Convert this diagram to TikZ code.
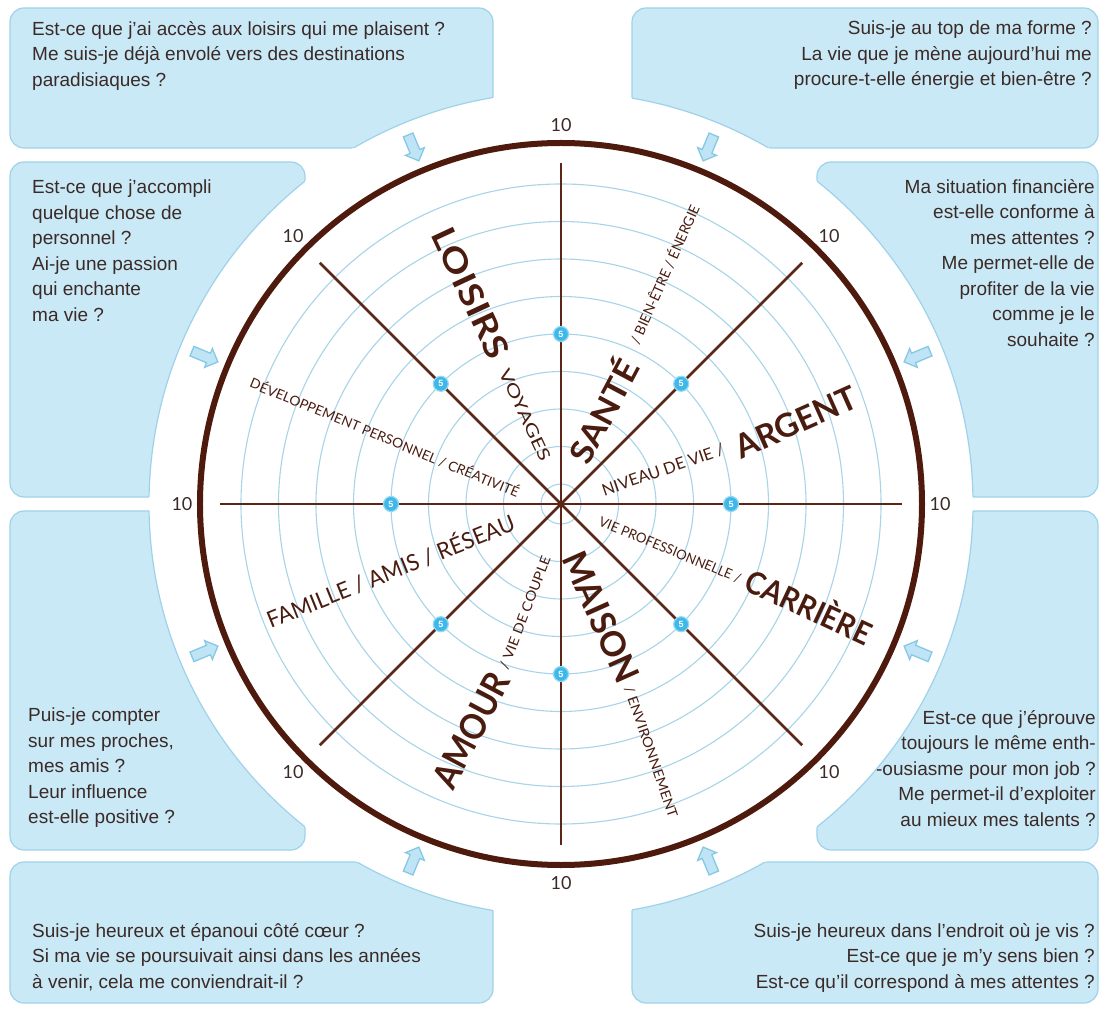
\documentclass[tikz,border=0pt]{standalone}
\usepackage{fontspec}
\setmainfont{Liberation Sans}
\newfontfamily\labfont{Lato}
\usetikzlibrary{shapes.arrows}
\definecolor{boxfill}{HTML}{C9E9F7}
\definecolor{boxline}{HTML}{9FD2E8}
\definecolor{brownd}{HTML}{4E1A0E}
\definecolor{spokecol}{HTML}{5C2516}
\definecolor{ringcol}{HTML}{A8D4E8}
\definecolor{txtcol}{HTML}{3B2A26}
\definecolor{labcol}{HTML}{4A1C10}
\definecolor{markcol}{HTML}{3DB8E8}
\definecolor{arrowfill}{HTML}{BFE4F5}
\definecolor{arrowline}{HTML}{86C8E6}
\newcommand\rz[3]{\resizebox{#1pt}{#2pt}{#3}}
\tikzset{
  qbox/.style={fill=boxfill, draw=boxline, line width=1.2pt, rounded corners=14pt},
  qtext/.style={inner sep=0pt, text=txtcol, font=\fontsize{19}{25.5}\selectfont},
  ringline/.style={draw=ringcol, line width=1.1pt},
  spokeline/.style={draw=spokecol, line width=2.6pt},
  rimline/.style={draw=brownd, line width=6pt},
  marker/.style={circle, fill=markcol, draw=markcol!55!white, line width=1.2pt, inner sep=0pt,
    minimum size=15pt, text=white, font=\bfseries\fontsize{9}{9}\selectfont},
  tenlab/.style={inner sep=0pt, text=txtcol, font=\labfont\fontsize{18}{18}\selectfont},
  lab/.style={inner sep=0pt, text=labcol, font=\labfont},
  biglab/.style={inner sep=0pt, text=labcol, font=\labfont\bfseries},
  qarrow/.style={single arrow, fill=arrowfill, draw=arrowline, line width=1.3pt,
    minimum height=28pt, inner xsep=0pt, inner ysep=4.5pt, single arrow head extend=5pt}
}
\begin{document}
\begin{tikzpicture}[x=1pt,y=1pt]
\useasboundingbox (-561,-507) rectangle (546,504);
\fill[white] (-561,-507) rectangle (546,504);
% question boxes
\foreach \xa/\ya/\xb/\yb in {-551/496/-68/356, 71/496/537/356, -551/342/-256/7, 256/342/537/7,
  -551/-7/-256/-346, 256/-7/537/-346, -551/-358/-68/-499, 71/-358/537/-499}
  \draw[qbox] (\xa,\ya) rectangle (\xb,\yb);
\fill[white] (0,0) circle (412);
\begin{scope}
\clip (-551,496) rectangle (-68,356) (71,496) rectangle (537,356)
      (-551,342) rectangle (-256,7) (256,342) rectangle (537,7)
      (-551,-7) rectangle (-256,-346) (256,-7) rectangle (537,-346)
      (-551,-358) rectangle (-68,-499) (71,-358) rectangle (537,-499);
\draw[boxline, line width=1.2pt] (0,0) circle (412);
\end{scope}
% box texts
\node[qtext, anchor=north west, align=left] (qtl) at (-529,483)
  {Est-ce que j'ai accès aux loisirs qui me plaisent ?\\Me suis-je déjà envolé vers des destinations\\paradisiaques ?};
\node[qtext, anchor=north east, align=right] (qtr) at (531,483)
  {Suis-je au top de ma forme ?\\La vie que je mène aujourd'hui me\\procure-t-elle énergie et bien-être ?};
\node[qtext, anchor=north west, align=left] (qlu) at (-529,324)
  {Est-ce que j'accompli\\quelque chose de\\personnel ?\\Ai-je une passion\\qui enchante\\ma vie ?};
\node[qtext, anchor=north east, align=right] (qru) at (534,325)
  {Ma situation financière\\est-elle conforme à\\mes attentes ?\\Me permet-elle de\\profiter de la vie\\comme je le\\souhaite ?};
\node[qtext, anchor=north west, align=left] (qll) at (-533,-204)
  {Puis-je compter\\sur mes proches,\\mes amis ?\\Leur influence\\est-elle positive ?};
\node[qtext, anchor=north east, align=right] (qrl) at (535,-206)
  {Est-ce que j'éprouve\\toujours le même enth-\\-ousiasme pour mon job ?\\Me permet-il d'exploiter\\au mieux mes talents ?};
\node[qtext, anchor=north west, align=left] (qbl) at (-529,-419)
  {Suis-je heureux et épanoui côté cœur ?\\Si ma vie se poursuivait ainsi dans les années\\à venir, cela me conviendrait-il ?};
\node[qtext, anchor=north east, align=right] (qbr) at (534,-419)
  {Suis-je heureux dans l'endroit où je vis ?\\Est-ce que je m'y sens bien ?\\Est-ce qu'il correspond à mes attentes ?};
% arrows
\foreach \a [count=\i] in {22.5,67.5,112.5,157.5,202.5,247.5,292.5,337.5}
  \node[qarrow, rotate=\a+180] (arr\i) at (\a:388) {};
% wheel
\coordinate (c) at (0,0);
\foreach \k in {0,...,8}
  \draw[ringline] (c) circle ({20+37.5*\k});
\foreach \t in {0,45,...,315} {
  \coordinate (e\t) at (\t:341);
  \draw[spokeline] (c) -- (e\t);
}
\draw[rimline] (c) circle (361);
\foreach \t in {0,45,...,315} {
  \node[marker] (m\t) at (\t:170) {5};
  \node[tenlab] (ten\t) at (\t:379) {10};
}
% sector labels
\node[biglab, rotate=-65] (loisirs) at (-90,211) {\rz{140}{24}{LOISIRS}};
\node[lab, rotate=-65] (voyages) at (-36,89) {\rz{100}{12}{VOYAGES}};
\node[biglab, rotate=62] (sante) at (41,94) {\rz{112}{30}{SANTÉ}};
\node[lab, rotate=66] (bien) at (103,230) {\rz{150}{13}{/ BIEN-ÊTRE / ÉNERGIE}};
\node[lab, rotate=19] (niveau) at (102,34) {\rz{128}{12}{NIVEAU DE VIE /}};
\node[biglab, rotate=24] (argent) at (235,82) {\rz{130}{24}{ARGENT}};
\node[lab, rotate=-22.5] (viepro) at (109,-46) {\rz{152}{10}{VIE PROFESSIONNELLE /}};
\node[biglab, rotate=-25] (carriere) at (249,-101) {\rz{135}{29}{CARRIÈRE}};
\node[biglab, rotate=-66] (maison) at (40,-113) {\rz{140}{25}{MAISON}};
\node[lab, rotate=-71] (environ) at (90,-248) {\rz{138}{10}{/ ENVIRONNEMENT}};
\node[biglab, rotate=62] (amour) at (-90,-226) {\rz{125}{26}{AMOUR}};
\node[lab, rotate=69] (couple) at (-36,-109) {\rz{120}{10}{/ VIE DE COUPLE}};
\node[lab, rotate=22] (famille) at (-171,-66) {\rz{265}{21}{FAMILLE / AMIS / RÉSEAU}};
\node[lab, rotate=-22.5] (dev) at (-176,67) {\rz{290}{12.5}{DÉVELOPPEMENT PERSONNEL / CRÉATIVITÉ}};
\end{tikzpicture}
\end{document}
